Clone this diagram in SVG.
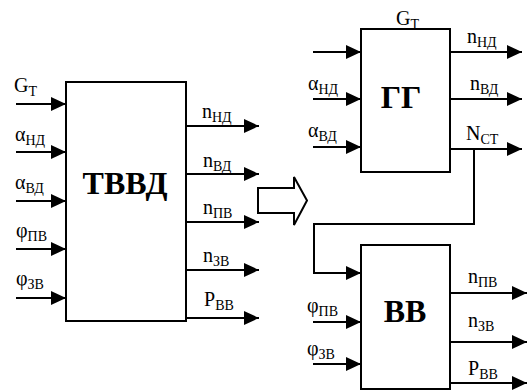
<svg xmlns="http://www.w3.org/2000/svg" width="531" height="392" viewBox="0 0 531 392">
<style>
.box{fill:#fff;stroke:#000;stroke-width:2}
.ln{fill:none;stroke:#000;stroke-width:2;marker-end:url(#ah)}
.wire{fill:none;stroke:#000;stroke-width:2}
text{font-family:"Liberation Serif","Times New Roman",serif;fill:#000}
.lb{font-size:20px}
.sb{font-size:14px}
.tt{font-size:32px;font-weight:bold;text-anchor:middle}
</style>
<defs>
<marker id="ah" markerWidth="15" markerHeight="14" refX="15" refY="7" orient="auto" markerUnits="userSpaceOnUse">
<path d="M0,0 L15,7 L0,14 z" fill="#000"/>
</marker>
</defs>
<rect width="531" height="392" fill="#fff"/>
<g id="connectors">
<line class="ln" x1="16" y1="104" x2="66" y2="104"/>
<line class="ln" x1="16" y1="152" x2="66" y2="152"/>
<line class="ln" x1="16" y1="201" x2="66" y2="201"/>
<line class="ln" x1="16" y1="249" x2="66" y2="249"/>
<line class="ln" x1="16" y1="298" x2="66" y2="298"/>
<line class="ln" x1="186" y1="126" x2="259" y2="126"/>
<line class="ln" x1="186" y1="174" x2="259" y2="174"/>
<line class="ln" x1="186" y1="222" x2="259" y2="222"/>
<line class="ln" x1="186" y1="270" x2="259" y2="270"/>
<line class="ln" x1="186" y1="318" x2="259" y2="318"/>
<line class="ln" x1="313" y1="52" x2="361" y2="52"/>
<line class="ln" x1="313" y1="99" x2="361" y2="99"/>
<line class="ln" x1="313" y1="147" x2="361" y2="147"/>
<line class="ln" x1="450" y1="52" x2="522" y2="52"/>
<line class="ln" x1="450" y1="99" x2="522" y2="99"/>
<line class="ln" x1="450" y1="149" x2="522" y2="149"/>
<polyline class="ln" points="474,149 474,224 314,224 314,273 361,273"/>
<line class="ln" x1="313" y1="322" x2="361" y2="322"/>
<line class="ln" x1="313" y1="364" x2="361" y2="364"/>
<line class="ln" x1="450" y1="293" x2="527" y2="293"/>
<line class="ln" x1="450" y1="342" x2="527" y2="342"/>
<line class="ln" x1="450" y1="383" x2="527" y2="383"/>
<polygon class="wire" points="258,188 294,188 294,177 307,200.5 294,225 294,213 258,213" fill="#fff"/>
</g>
<g id="tvvd">
<rect class="box" x="66" y="82" width="120" height="239"/>
<text class="tt" x="125" y="194">ТВВД</text>
<text class="lb" x="14" y="92">G<tspan class="sb" dy="4">Т</tspan></text>
<text class="lb" x="15" y="141">α<tspan class="sb" dy="4">НД</tspan></text>
<text class="lb" x="15" y="189">α<tspan class="sb" dy="4">ВД</tspan></text>
<text class="lb" x="16" y="237">φ<tspan class="sb" dy="4">ПВ</tspan></text>
<text class="lb" x="16" y="285">φ<tspan class="sb" dy="4">ЗВ</tspan></text>
<text class="lb" x="202" y="118">n<tspan class="sb" dy="4">НД</tspan></text>
<text class="lb" x="203" y="167">n<tspan class="sb" dy="4">ВД</tspan></text>
<text class="lb" x="203" y="214">n<tspan class="sb" dy="4">ПВ</tspan></text>
<text class="lb" x="203" y="262">n<tspan class="sb" dy="4">ЗВ</tspan></text>
<text class="lb" x="204" y="306">P<tspan class="sb" dy="4">ВВ</tspan></text>
</g>
<g id="gg">
<rect class="box" x="361" y="29" width="89" height="143"/>
<text class="tt" x="401" y="108">ГГ</text>
<text class="lb" x="396" y="25">G<tspan class="sb" dy="4">Т</tspan></text>
<text class="lb" x="308" y="90">α<tspan class="sb" dy="4">НД</tspan></text>
<text class="lb" x="308" y="137">α<tspan class="sb" dy="4">ВД</tspan></text>
<text class="lb" x="467" y="43">n<tspan class="sb" dy="4">НД</tspan></text>
<text class="lb" x="470" y="90">n<tspan class="sb" dy="4">ВД</tspan></text>
<text class="lb" x="466" y="140">N<tspan class="sb" dy="4">СТ</tspan></text>
</g>
<g id="vv">
<rect class="box" x="361" y="245" width="89" height="144"/>
<text class="tt" x="405" y="322">ВВ</text>
<text class="lb" x="307" y="312">φ<tspan class="sb" dy="4">ПВ</tspan></text>
<text class="lb" x="307" y="355">φ<tspan class="sb" dy="4">ЗВ</tspan></text>
<text class="lb" x="468" y="283">n<tspan class="sb" dy="4">ПВ</tspan></text>
<text class="lb" x="468" y="327">n<tspan class="sb" dy="4">ЗВ</tspan></text>
<text class="lb" x="468" y="375">P<tspan class="sb" dy="4">ВВ</tspan></text>
</g>
</svg>
